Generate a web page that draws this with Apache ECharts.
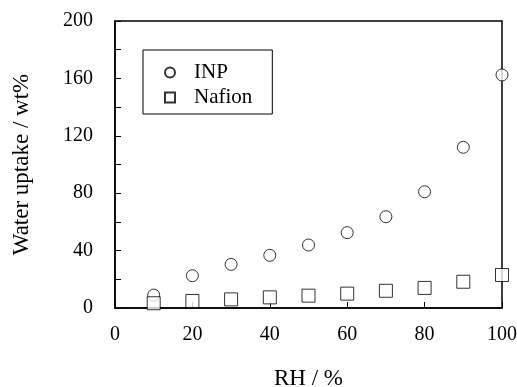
<!DOCTYPE html>
<html>
<head>
<meta charset="utf-8">
<script src="https://cdn.jsdelivr.net/npm/echarts@6/dist/echarts.min.js"></script>
<style>
html, body { margin: 0; padding: 0; background: #fff; }
#container { width: 517px; height: 387px; }
</style>
</head>
<body>
<div id="container"></div>
<script>
var rh = [10, 20, 30, 40, 50, 60, 70, 80, 90, 100];
var inpUptake = [9, 22.5, 30.4, 36.7, 43.9, 52.5, 63.6, 81, 112, 162.4];
var nafionUptake = [3.3, 4.9, 6, 7.4, 8.6, 10, 12, 14, 18.3, 23];

function pairs(xs, ys) {
    return xs.map(function (x, i) { return [x, ys[i]]; });
}

var font = '"Liberation Serif", "Times New Roman", serif';
var dom = document.getElementById("container");
var myChart = echarts.init(dom);
var option = {
    animation: false,
    textStyle: { fontFamily: font, color: '#000' },
    grid: {
        left: 115, top: 21, width: 387, height: 287,
        outerBoundsMode: 'none',
        show: true, borderColor: '#000', borderWidth: 1.5
    },
    legend: {
        orient: 'vertical',
        left: 143, top: 50,
        padding: [12, 20, 6, 21],
        borderColor: '#000', borderWidth: 1,
        itemWidth: 10, itemHeight: 10, itemGap: 4,
        textStyle: { fontFamily: font, fontSize: 21, color: '#000', padding: [0, 0, 0, 14] },
        data: [
            { name: 'INP', icon: 'circle' },
            { name: 'Nafion', icon: 'rect' }
        ]
    },
    xAxis: {
        type: 'value', min: 0, max: 100, interval: 20,
        name: 'RH / %', nameLocation: 'middle', nameGap: 59,
        nameTextStyle: { fontFamily: font, fontSize: 23, color: '#000' },
        axisLine: { lineStyle: { color: '#000', width: 1.5 } },
        axisTick: { inside: true, length: 6, lineStyle: { color: '#000' } },
        axisLabel: { margin: 17, fontFamily: font, fontSize: 20, color: '#000' },
        splitLine: { show: false }
    },
    yAxis: {
        type: 'value', min: 0, max: 200, interval: 20,
        name: 'Water uptake / wt%', nameLocation: 'middle', nameGap: 82,
        nameTextStyle: { fontFamily: font, fontSize: 23, color: '#000' },
        axisLine: { lineStyle: { color: '#000', width: 1.5 } },
        axisTick: { inside: true, length: 6, lineStyle: { color: '#000' } },
        axisLabel: {
            margin: 22, fontFamily: font, fontSize: 20, color: '#000',
            formatter: function (v) { return v % 40 === 0 ? String(v) : ''; }
        },
        splitLine: { show: false }
    },
    series: [
        {
            name: 'INP', type: 'scatter', symbol: 'circle', symbolSize: 12,
            itemStyle: { color: '#fff', borderColor: '#000', borderWidth: 1 },
            data: pairs(rh, inpUptake), z: 5
        },
        {
            name: 'Nafion', type: 'scatter', symbol: 'rect', symbolSize: 13,
            itemStyle: { color: '#fff', borderColor: '#000', borderWidth: 1 },
            data: pairs(rh, nafionUptake), z: 5
        }
    ]
};
myChart.setOption(option, true);
</script>
</body>
</html>
